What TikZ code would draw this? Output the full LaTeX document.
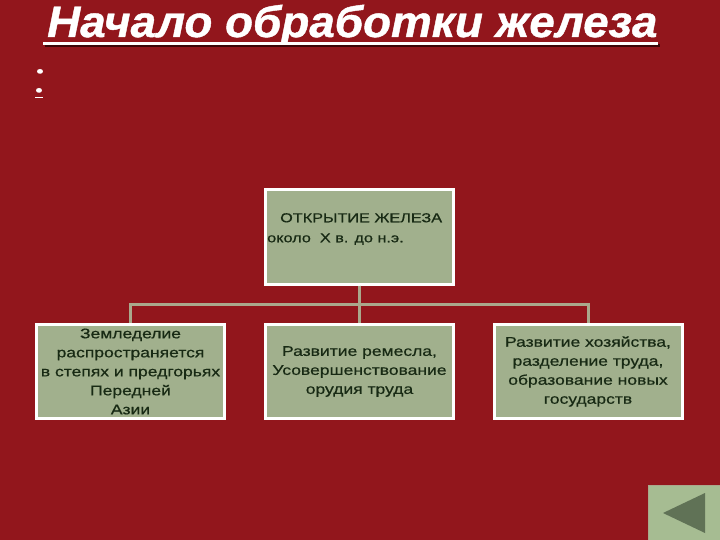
\documentclass[tikz,border=0pt]{standalone}
\usepackage{fontspec}
\usepackage{tikz}
\usetikzlibrary{positioning}
\newfontfamily\boxfont[FakeStretch=1.25,FakeBold=0.6]{Liberation Sans}
\newfontfamily\headfont[FakeStretch=1.04,FakeBold=1]{Liberation Sans}
\definecolor{slidered}{RGB}{146,22,28}
\definecolor{sage}{RGB}{161,176,141}
\definecolor{inkgreen}{RGB}{24,42,20}
\definecolor{branchgrey}{RGB}{170,168,140}
\definecolor{shadowred}{RGB}{60,6,8}
\definecolor{btnsage}{RGB}{166,188,146}
\definecolor{btnarrow}{RGB}{96,114,86}
\tikzset{
	every box/.style={
		rectangle,
		draw=white,
		line width=3pt,
		fill=sage,
		text=inkgreen,
		minimum width=188pt,
		minimum height=94pt,
		inner sep=0pt,
		align=center,
		font=\boxfont\fontsize{14}{19}\selectfont },
	branch/.style={
		draw=branchgrey,
		line width=3pt },
	headline/.style={
		anchor=base west,
		inner sep=0pt,
		font=\headfont\bfseries\itshape\fontsize{44}{48}\selectfont },
	marker/.style={
		text=white,
		inner sep=0pt,
		font=\boxfont\fontsize{17}{17}\selectfont },
}

\begin{document}
\begin{tikzpicture}[x=1pt, y=-1pt]

		% background of the slide
		\fill [slidered] (0,0) rectangle (720,540);
		\useasboundingbox (0,0) rectangle (720,540);

		% heading
		\node [headline, text=white] (title) at (47,37) {Начало обработки железа};
		\draw [shadowred, line width=3pt] (title.base west) ++(-2,9) -- ++(615,0);
		\draw [white, line width=3pt] (title.base west) ++(-4,7) -- ++(615,0);

		\node [marker] (dot-1) at (40,73) {•};
		\node [marker] (dot-2) at (39,93) {\underline{•}};

		% top box
		\node [every box] (discovery) at (359.5,237) {};
		\node [anchor=north west, inner sep=0pt, align=left, text=inkgreen,
			font=\boxfont\fontsize{13}{20}\selectfont] (discovery-text) at (267,213)
			{\hspace*{13pt}ОТКРЫТИЕ ЖЕЛЕЗА\\около~~X в. до н.э.};

		% consequences
		\foreach \x/\t [count=\i] in {
			130.5/{Земледелие\\распространяется\\в степях и предгорьях\\Передней\\Азии},
			359.5/{Развитие ремесла,\\Усовершенствование\\орудия труда},
			588/{Развитие хозяйства,\\разделение труда,\\образование новых\\государств}}
		\node [every box] (effect-\i) at (\x,371.5) {\t};

		\foreach \i in {1,...,3}
		\draw [branch] (discovery.south) -- ++(0,19) -| (effect-\i.north);

		% back button
		\node [rectangle, draw=branchgrey, line width=1pt, fill=btnsage, anchor=north west,
			minimum width=74pt, minimum height=57pt] (back) at (648,485) {};
		\fill [btnarrow] (663,513) -- (705,493) -- (705,533) -- cycle;
	\end{tikzpicture}
\end{document}
